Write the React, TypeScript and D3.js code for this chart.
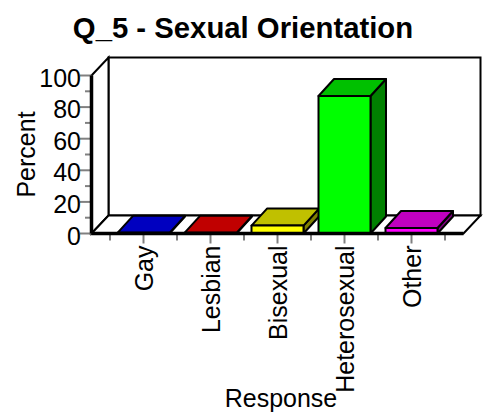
import React from "react";
import * as d3 from "d3";

const categories = ["Gay", "Lesbian", "Bisexual", "Heterosexual", "Other"];
const values = [0.4, 0.4, 5, 87, 3.5];
const frontColors = ["#0000ff", "#ff0000", "#ffff00", "#00ff00", "#ff00ff"];
const topColors = ["#0000c0", "#c00000", "#c0c000", "#00c000", "#c000c0"];
const sideColors = ["#000080", "#800000", "#808000", "#008000", "#800080"];
const yTicks = [0, 20, 40, 60, 80, 100];
const yMinorTicks = [10, 30, 50, 70, 90];

const FONT = "'Liberation Sans', Arial, sans-serif";
const DX = 17, DY = 18;
const BDX = 15.5, BDY = 17;

export default function App() {
  const y = d3.scaleLinear().domain([0, 100]).range([233.5, 75.5]);
  const x = d3.scaleBand<string>().domain(categories).range([110, 445]).paddingInner(15 / 67).paddingOuter(7.5 / 67);
  const xStep = x.step();
  const left = 91.5, right = 463.5;
  const y0 = y(0), y100 = y(100);
  const sw = 2;
  const pts = (a: number[][]) => a.map((p) => p.join(",")).join(" ");
  return (
    <svg width={488} height={413} style={{ position: "absolute", left: 0, top: 0 }} fontFamily={FONT}>
      <rect width={488} height={413} fill="#fff" />
      <text x={243} y={38} textAnchor="middle" fontSize={29.3} fontWeight="bold">Q_5 - Sexual Orientation</text>

      {/* Walls */}
      <rect x={left + DX} y={y100 - DY} width={right - left} height={y0 - y100} fill="#fff" stroke="#000" strokeWidth={sw} />
      <polygon points={pts([[left, y100], [left + DX, y100 - DY], [left + DX, y0 - DY], [left, y0]])} fill="#fff" stroke="#000" strokeWidth={sw} />
      <polygon points={pts([[left, y0], [left + DX, y0 - DY], [right + DX, y0 - DY], [right, y0]])} fill="#fff" stroke="#000" strokeWidth={sw} />

      {/* Y axis ticks */}
      {yTicks.map((t) => (
        <g key={t}>
          <line x1={80} x2={left} y1={y(t)} y2={y(t)} stroke="#808080" strokeWidth={2} />
          <text x={81} y={y(t) + 11} textAnchor="end" fontSize={25}>{t}</text>
        </g>
      ))}
      {yMinorTicks.map((t) => (
        <line key={t} x1={85} x2={left} y1={y(t)} y2={y(t)} stroke="#808080" strokeWidth={2} />
      ))}

      {/* X axis ticks */}
      {categories.map((c, i) => {
        const band0 = 110 + i * xStep;
        return (
          <g key={c}>
            <line x1={band0} x2={band0} y1={y0} y2={y0 + 7} stroke="#808080" strokeWidth={2} />
            <line x1={band0 + xStep / 2} x2={band0 + xStep / 2} y1={y0} y2={y0 + 10} stroke="#808080" strokeWidth={2} />
            <text transform={`translate(${band0 + xStep / 2 + 9.5},${y0 + 12}) rotate(-90)`} textAnchor="end" fontSize={25}>{c}</text>
          </g>
        );
      })}
      <line x1={110 + 5 * xStep} x2={110 + 5 * xStep} y1={y0} y2={y0 + 7} stroke="#808080" strokeWidth={2} />

      {/* Bars */}
      {categories.map((c, i) => {
        const x0 = x(c) as number;
        const x1 = x0 + x.bandwidth();
        const yt = y(values[i]);
        return (
          <g key={c} stroke="#000" strokeWidth={sw} strokeLinejoin="round">
            <polygon points={pts([[x1, yt], [x1 + BDX, yt - BDY], [x1 + BDX, y0 - BDY], [x1, y0]])} fill={sideColors[i]} />
            <polygon points={pts([[x0, yt], [x0 + BDX, yt - BDY], [x1 + BDX, yt - BDY], [x1, yt]])} fill={topColors[i]} />
            <rect x={x0} y={yt} width={x1 - x0} height={y0 - yt} fill={frontColors[i]} />
          </g>
        );
      })}

      {/* Front axes */}
      <line x1={left} x2={right} y1={y0} y2={y0} stroke="#000" strokeWidth={3.5} />
      <line x1={left} x2={left} y1={y100} y2={y0} stroke="#000" strokeWidth={3.5} />

      <text transform="translate(35,154.5) rotate(-90)" textAnchor="middle" fontSize={25}>Percent</text>
      <text x={281} y={407} textAnchor="middle" fontSize={25}>Response</text>
    </svg>
  );
}
